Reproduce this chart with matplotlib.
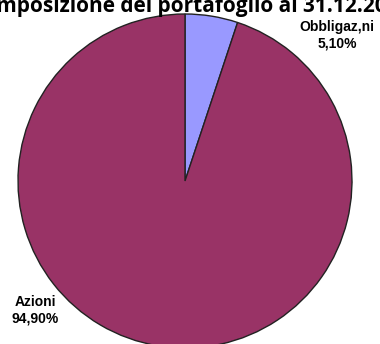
import matplotlib
matplotlib.use("Agg")
import matplotlib.pyplot as plt

# data
labels = ["Obbligaz,ni", "Azioni"]
values = [5.10, 94.90]
colors = ["#9999FF", "#993366"]
title = "Composizione del portafoglio al 31.12.2012"

fig = plt.figure(figsize=(3.80, 3.44), dpi=100)
ax = fig.add_axes([0, 0, 1, 1])

ax.pie(values, colors=colors, startangle=90, counterclock=False,
       center=(185, 344 - 181), radius=167,
       wedgeprops=dict(edgecolor="#222222", linewidth=1.0))
ax.set_xlim(0, 380)
ax.set_ylim(0, 344)
ax.set_aspect("equal")
ax.axis("off")

def pct(v):
    return f"{v:.2f}".replace(".", ",") + "%"

ax.text(337, 344 - 35, f"{labels[0]}\n{pct(values[0])}", ha="center", va="center",
        fontsize=10, fontweight="bold", family="Liberation Sans", linespacing=1.2)
ax.text(35, 344 - 310, f"{labels[1]}\n{pct(values[1])}", ha="center", va="center",
        fontsize=10, fontweight="bold", family="Liberation Sans", linespacing=1.2)

fig.text(0.5, 1 - 12 / 344, title, ha="center", va="baseline",
         fontsize=15, fontweight="bold", family="Open Sans")

fig.savefig("out.png", dpi=100)
